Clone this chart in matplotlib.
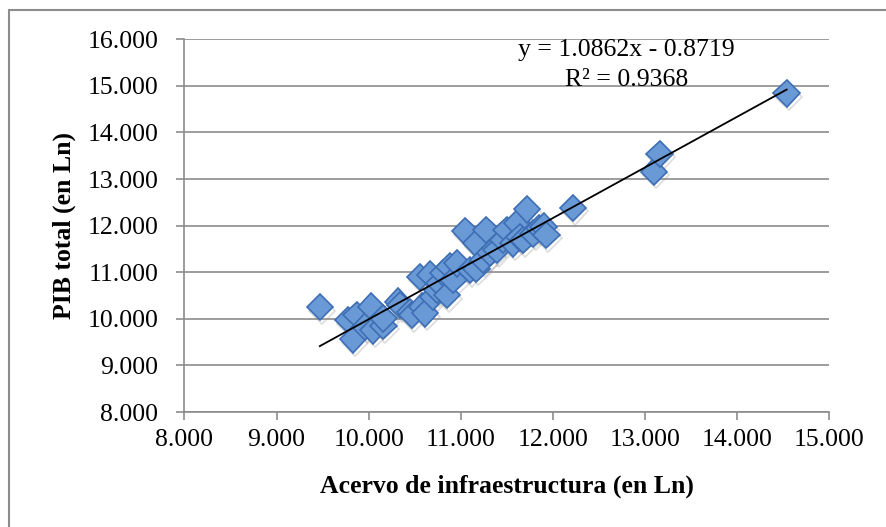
import matplotlib
matplotlib.use("Agg")
import matplotlib.pyplot as plt
import matplotlib.patheffects as pe
from matplotlib.patches import Rectangle

# infrastructure stock vs total GDP, both in logs
acervo = [9.47, 9.78, 9.83, 9.87, 9.96, 10.03, 10.05, 10.16, 10.16, 10.32,
          10.34, 10.45, 10.47, 10.56, 10.58, 10.61, 10.67, 10.70, 10.74, 10.77,
          10.81, 10.85, 10.88, 10.92, 10.96, 11.05, 11.10, 11.17, 11.17, 11.24,
          11.28, 11.32, 11.39, 11.46, 11.50, 11.57, 11.61, 11.64, 11.68, 11.72,
          11.79, 11.85, 11.90, 11.93, 12.22, 13.10, 13.16, 14.54]
pib = [10.25, 9.97, 9.56, 10.08, 9.83, 10.26, 9.75, 9.85, 10.01, 10.37,
       10.30, 10.15, 10.08, 10.90, 10.26, 10.12, 10.95, 10.47, 10.62, 10.76,
       10.98, 10.51, 11.12, 10.83, 11.19, 11.88, 11.05, 11.62, 11.08, 11.26,
       11.91, 11.41, 11.48, 11.69, 11.91, 11.62, 12.05, 11.75, 11.69, 12.35,
       11.83, 11.95, 11.98, 11.80, 12.38, 13.16, 13.54, 14.84]

# linear trend
slope = 1.0862
intercept = -0.8719
r2 = 0.9368

xticks = [8, 9, 10, 11, 12, 13, 14, 15]
yticks = [8, 9, 10, 11, 12, 13, 14, 15, 16]

GRID = "#8c8c8c"
FONT = "Liberation Serif"
FS = 18.5


def main():
    fig = plt.figure(figsize=(8.86, 5.27), dpi=100)
    ax = fig.add_axes([0.2082, 0.2182, 0.7275, 0.7072])

    # chart border (runs off the right and bottom edges)
    fig.patches.append(Rectangle((0.0105, -0.2), 1.2, 1.181, transform=fig.transFigure,
                                 fill=False, edgecolor=GRID, linewidth=1.5))

    shadow = [pe.SimpleLineShadow(offset=(1.5, -2.5), shadow_color="#909090", alpha=0.3),
              pe.Normal()]
    ax.plot(acervo, pib, linestyle="none", marker="D", markersize=13.5,
            markerfacecolor="#6a9ad6", markeredgecolor="#3d6eb4", markeredgewidth=1.2,
            path_effects=shadow, zorder=3)

    x0 = min(acervo)
    x1 = max(acervo)
    ax.plot([x0, x1], [slope * x0 + intercept, slope * x1 + intercept],
            color="black", linewidth=1.3, zorder=4)

    ax.text(12.80, 15.77, "y = %.4fx - %.4f" % (slope, -intercept),
            ha="center", va="center", fontsize=FS, family=FONT, zorder=5)
    ax.text(12.80, 15.12, "R\u00b2 = %.4f" % r2,
            ha="center", va="center", fontsize=FS, family=FONT, zorder=5)

    ax.set_xlim(8, 15)
    ax.set_ylim(8, 16)
    ax.set_xticks(xticks)
    ax.set_yticks(yticks)
    ax.set_xticklabels(["%.3f" % v for v in xticks], family=FONT, fontsize=FS)
    ax.set_yticklabels(["%.3f" % v for v in yticks], family=FONT, fontsize=FS)
    ax.tick_params(direction="out", length=6, width=1.2, color=GRID)
    ax.tick_params(axis="x", pad=6)
    ax.tick_params(axis="y", pad=13)

    ax.grid(axis="y", color=GRID, linewidth=1.2)
    ax.set_axisbelow(True)
    for side in ["top", "right"]:
        ax.spines[side].set_visible(False)
    for side in ["left", "bottom"]:
        ax.spines[side].set_color(GRID)
        ax.spines[side].set_linewidth(1.2)

    ax.set_xlabel("Acervo de infraestructura (en Ln)", family=FONT, fontsize=FS,
                  fontweight="bold", labelpad=17)
    ax.set_ylabel("PIB total (en Ln)", family=FONT, fontsize=FS,
                  fontweight="bold", labelpad=8)

    fig.savefig("out.png", dpi=100)


if __name__ == "__main__":
    main()
